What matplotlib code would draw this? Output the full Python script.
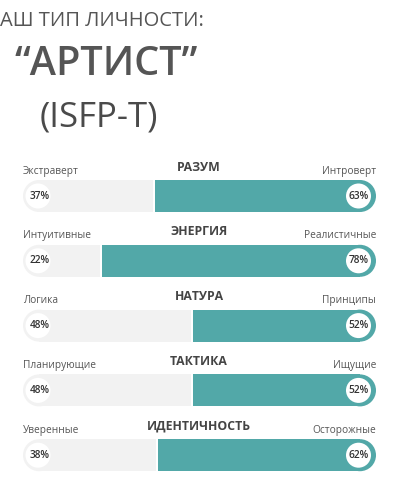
import matplotlib.pyplot as plt
from matplotlib.patches import Rectangle, Circle

plt.rcParams['font.family'] = ['Open Sans', 'DejaVu Sans']

# chart data
categories = ['РАЗУМ', 'ЭНЕРГИЯ', 'НАТУРА', 'ТАКТИКА', 'ИДЕНТИЧНОСТЬ']
left_labels = ['Экстраверт', 'Интуитивные', 'Логика', 'Планирующие', 'Уверенные']
right_labels = ['Интроверт', 'Реалистичные', 'Принципы', 'Ищущие', 'Осторожные']
left_pct = [37, 22, 48, 48, 38]
right_pct = [63, 78, 52, 52, 62]

TEAL = '#52a8a8'
GREY = '#f2f2f2'
TXT = '#555555'

W, H = 399, 490
fig = plt.figure(figsize=(W / 100, H / 100), dpi=100)
ax = fig.add_axes([0, 0, 1, 1])
ax.set_xlim(0, W)
ax.set_ylim(H, 0)
ax.axis('off')

# header
ax.text(0, 21, 'АШ ТИП ЛИЧНОСТИ:', fontsize=14.5, color=TXT, va='center', ha='left')
ax.text(15, 65, '“АРТИСТ”', fontsize=28.5, color=TXT, va='center', ha='left',
        fontweight='semibold')
ax.text(40, 117, '(ISFP-T)', fontsize=25, color='#4a4a4a', va='center', ha='left')

x0, x1 = 23, 376
bar_h = 32
r = bar_h / 2
first_top = 180
step = 64.8

for i, cat in enumerate(categories):
    top = first_top + i * step
    yc = top + r
    split = x0 + (x1 - x0) * left_pct[i] / 100

    # grey part with rounded left end
    ax.add_patch(Rectangle((x0 + r, top), split - 1 - (x0 + r), bar_h, color=GREY, lw=0))
    ax.add_patch(Circle((x0 + r, yc), r, color=GREY, lw=0))
    # teal part with rounded right end
    ax.add_patch(Rectangle((split + 1, top), x1 - r - (split + 1), bar_h, color=TEAL, lw=0))
    ax.add_patch(Circle((x1 - r, yc), r, color=TEAL, lw=0))
    # white badges
    ax.add_patch(Circle((x0 + r - 1, yc), r - 3.5, color='white', lw=0, zorder=3))
    ax.add_patch(Circle((x1 - r - 1.5, yc), r - 3.5, color='white', lw=0, zorder=3))

    ax.text(x0 + r + 1, yc, f'{left_pct[i]}%', fontsize=7.3, color='#333333',
            ha='center', va='center', zorder=4, fontweight='semibold')
    ax.text(x1 - r - 1.5, yc, f'{right_pct[i]}%', fontsize=7.3, color='#333333',
            ha='center', va='center', zorder=4, fontweight='semibold')

    ax.text(x0, top - 9, left_labels[i], fontsize=7.3, color=TXT, ha='left', va='center')
    ax.text(x1, top - 9, right_labels[i], fontsize=7.3, color=TXT, ha='right', va='center')
    ax.text(199, top - 13, cat, fontsize=8.8, color='#444444', ha='center', va='center',
            fontweight='bold')

fig.savefig('out.png', dpi=100)
